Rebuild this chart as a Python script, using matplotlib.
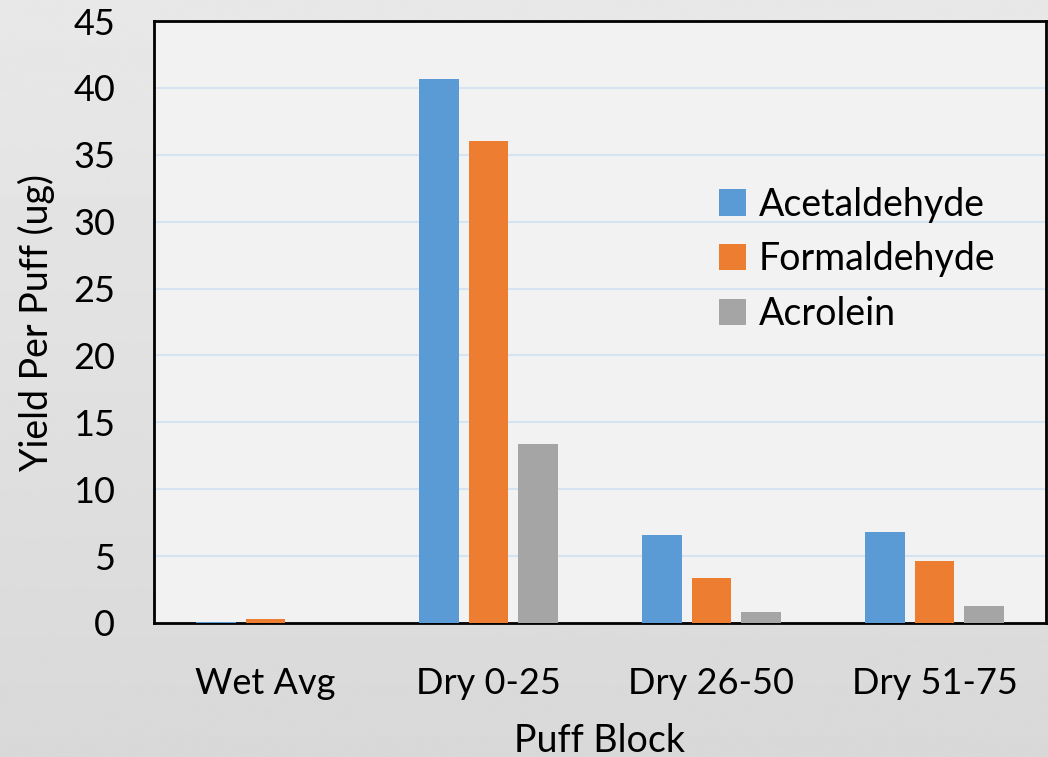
import numpy as np
import matplotlib
matplotlib.use('Agg')
import matplotlib.pyplot as plt

#-------------------------------------------------------------------------
# data
categories = ['Wet Avg', 'Dry 0-25', 'Dry 26-50', 'Dry 51-75']
acetaldehyde = [0.1, 40.7, 6.6, 6.8]
formaldehyde = [0.3, 36.0, 3.4, 4.65]
acrolein = [0.0, 13.4, 0.85, 1.3]

series_names = ['Acetaldehyde', 'Formaldehyde', 'Acrolein']
series_colors = ['#5b9bd5', '#ed7d31', '#a5a5a5']
yticks = np.arange(0, 50, 5)

plt.rcParams['font.family'] = ['Lato', 'DejaVu Sans']

#-------------------------------------------------------------------------
fig = plt.figure(figsize=(10.48, 7.57), dpi=100)

# light grey vertical gradient behind everything
bg = fig.add_axes([0, 0, 1, 1], zorder=-10)
grad = np.linspace(0.91, 0.85, 256).reshape(-1, 1)
bg.imshow(grad, aspect='auto', cmap='gray', vmin=0, vmax=1,
          extent=[0, 1, 0, 1])
bg.set_axis_off()

W, H = 1048.0, 757.0
left, right, top, bottom = 154, 1046, 21, 623
ax = fig.add_axes([left/W, 1 - bottom/H, (right-left)/W, (bottom-top)/H])
ax.set_facecolor('#f2f2f2')

x = np.arange(len(categories))
width = 0.175
step = 0.222
for i, (vals, name, col) in enumerate(zip([acetaldehyde, formaldehyde, acrolein],
                                          series_names, series_colors)):
  ax.bar(x + (i - 1)*step, vals, width, color=col, label=name, zorder=3)

ax.set_xlim(-0.5, len(categories) - 0.5)
ax.set_ylim(0, 45)
ax.set_yticks(yticks)
ax.set_xticks(x)
ax.set_xticklabels(categories)

ax.grid(axis='y', color='#d6e4f2', linewidth=1.5, zorder=0)
ax.tick_params(axis='both', length=0, labelsize=26, pad=28)
ax.tick_params(axis='x', pad=32)
for s in ax.spines.values():
  s.set_linewidth(2.0)
  s.set_color('black')

ax.set_xlabel('Puff Block', fontsize=27, labelpad=16)
ax.set_ylabel('Yield Per Puff (ug)', fontsize=27, labelpad=13)

leg = ax.legend(loc='upper left', bbox_to_anchor=(0.617, 0.75), frameon=False,
                fontsize=27, handlelength=0.7, handleheight=0.7,
                handletextpad=0.35, labelspacing=0.5, borderaxespad=0)

plt.savefig('out.png', dpi=100)
plt.close()
